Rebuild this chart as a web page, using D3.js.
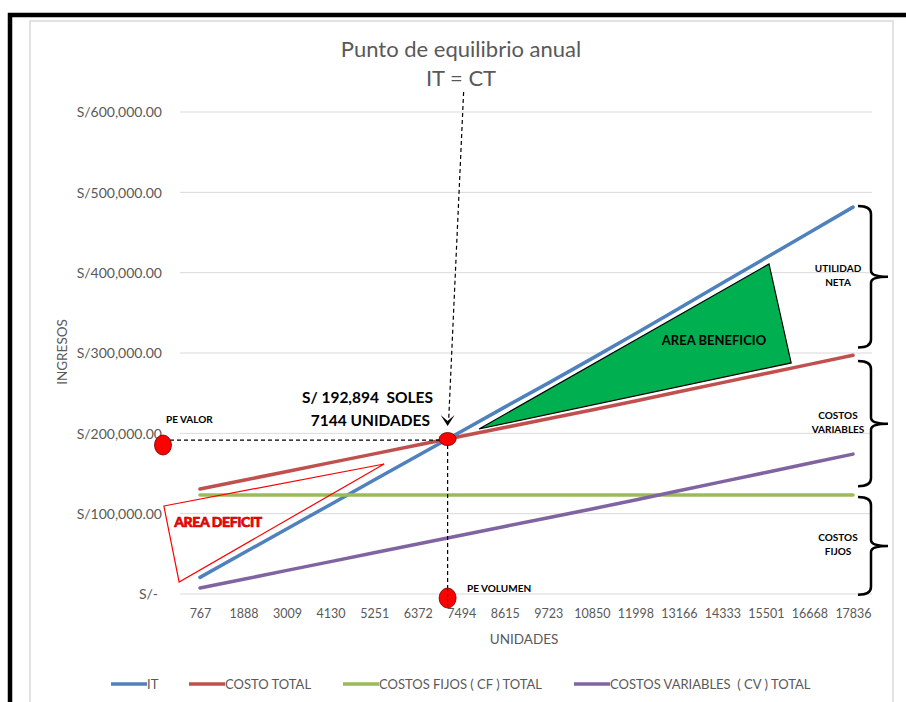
<!DOCTYPE html>
<html>
<head>
<meta charset="utf-8">
<script src="https://cdnjs.cloudflare.com/ajax/libs/d3/7.8.5/d3.min.js"></script>
<style>
  body { margin: 0; background: #fff; }
  svg text { font-family: Lato, "Open Sans", sans-serif; }
</style>
</head>
<body>
<svg id="chart"></svg>
<script>
// chart data
var unidades = ["767", "1888", "3009", "4130", "5251", "6372", "7494", "8615", "9723",
  "10850", "11998", "13166", "14333", "15501", "16668", "17836"];
var ingresoTotal = [20700, 51000, 81200, 111500, 141800, 172000, 202300, 232600, 262500,
  293000, 324000, 355500, 387000, 418500, 450000, 481600];
var costoTotal = [130600, 141600, 152500, 163500, 174400, 185400, 196300, 207200, 218100,
  229100, 240300, 251700, 263100, 274500, 285800, 297200];
var costosFijos = [123160, 123160, 123160, 123160, 123160, 123160, 123160, 123160, 123160,
  123160, 123160, 123160, 123160, 123160, 123160, 123160];
var costosVariables = [7500, 18400, 29400, 40300, 51300, 62200, 73100, 84100, 94900,
  105900, 117100, 128500, 139900, 151300, 162700, 174100];
var yTicks = [0, 100000, 200000, 300000, 400000, 500000, 600000];
var peUnidades = 7144, peSoles = 192894;

// annotation shapes in data space: [category index, soles]
var areaDeficit = [[-0.83, 109500], [4.23, 161800], [-0.48, 15000]];
var areaBeneficio = [[6.41, 205400], [13.07, 410800], [13.58, 287600]];
var llaves = [
  { lbl: ["UTILIDAD", "NETA"], top: 483000, bot: 307000 },
  { lbl: ["COSTOS", "VARIABLES"], top: 290000, bot: 134000 },
  { lbl: ["COSTOS", "FIJOS"], top: 120700, bot: -1000 }
];

var series = [
  { name: "IT", vals: ingresoTotal, color: "#4f81bd" },
  { name: "COSTO TOTAL", vals: costoTotal, color: "#c0504d" },
  { name: "COSTOS FIJOS ( CF ) TOTAL", vals: costosFijos, color: "#9bbb59" },
  { name: "COSTOS VARIABLES  ( CV ) TOTAL", vals: costosVariables, color: "#8064a2" }
];

var width = 906, height = 702;
var svg = d3.select("#chart").attr("width", width).attr("height", height);

// frame
svg.append("rect").attr("x", 30).attr("y", 21).attr("width", 863).attr("height", 700)
  .attr("fill", "#fff").attr("stroke", "#d9d9d9").attr("stroke-width", 1.5);
svg.append("path").attr("d", "M10,710 L10,15 L906,15")
  .attr("fill", "none").attr("stroke", "#000").attr("stroke-width", 4.5);

var x = d3.scaleLinear().domain([0, unidades.length - 1]).range([200, 853]);
var y = d3.scaleLinear().domain([0, 600000]).range([594, 112]);

// units -> fractional category position
function unitIdx(u) {
  var n = unidades.map(Number);
  for (var i = 0; i < n.length - 1; i++) {
    if (u <= n[i + 1]) return i + (u - n[i]) / (n[i + 1] - n[i]);
  }
  return n.length - 1;
}

// gridlines
svg.append("g").selectAll("line").data(yTicks).enter().append("line")
  .attr("x1", 180).attr("x2", 872)
  .attr("y1", function(d) { return y(d); }).attr("y2", function(d) { return y(d); })
  .attr("stroke", "#d9d9d9").attr("stroke-width", 1);

// y axis
var yAxis = d3.axisLeft(y).tickValues(yTicks).tickSize(0).tickPadding(0)
  .tickFormat(function(d) { return d === 0 ? "S/-" : "S/" + d3.format(",.2f")(d); });
var gy = svg.append("g").attr("transform", "translate(162,0)").call(yAxis);
gy.select(".domain").remove();
gy.selectAll("text").attr("fill", "#595959").style("font-size", "14px")
  .attr("dy", "0.35em");
gy.selectAll(".tick").filter(function(d) { return d === 0; }).select("text")
  .attr("x", -4);

// x axis
var xAxis = d3.axisBottom(x).tickValues(d3.range(unidades.length)).tickSize(0)
  .tickFormat(function(i) { return unidades[i]; });
var gx = svg.append("g").attr("transform", "translate(0,606)").call(xAxis);
gx.select(".domain").remove();
gx.selectAll("text").attr("fill", "#595959").style("font-size", "12.5px");

svg.append("text").attr("x", 524).attr("y", 644).attr("text-anchor", "middle")
  .attr("fill", "#595959").style("font-size", "13.5px").text("UNIDADES");
svg.append("text").attr("transform", "translate(67,352) rotate(-90)")
  .attr("text-anchor", "middle").attr("fill", "#595959").style("font-size", "13.5px")
  .text("INGRESOS");

// title
svg.append("text").attr("x", 461).attr("y", 57).attr("text-anchor", "middle")
  .attr("fill", "#595959").style("font-size", "22px").text("Punto de equilibrio anual");
svg.append("text").attr("x", 461).attr("y", 86).attr("text-anchor", "middle")
  .attr("fill", "#595959").style("font-size", "22px").text("IT = CT");

// lines
var line = d3.line()
  .x(function(d, i) { return x(i); })
  .y(function(d) { return y(d); });

svg.append("g").selectAll("path").data(series).enter().append("path")
  .attr("d", function(d) { return line(d.vals); })
  .attr("fill", "none")
  .attr("stroke", function(d) { return d.color; })
  .attr("stroke-width", 3.5)
  .attr("stroke-linecap", "round");

// area polygons
function polyPts(arr) {
  return arr.map(function(p) { return x(p[0]) + "," + y(p[1]); }).join(" ");
}
svg.append("polygon").attr("points", polyPts(areaBeneficio))
  .attr("fill", "#00b050").attr("stroke", "#000").attr("stroke-width", 1.2);
svg.append("polygon").attr("points", polyPts(areaDeficit))
  .attr("fill", "none").attr("stroke", "#ff0000").attr("stroke-width", 1.2);

svg.append("text").attr("x", 714).attr("y", 345).attr("text-anchor", "middle")
  .attr("fill", "#000").style("font-size", "13px").style("font-weight", "bold")
  .text("AREA BENEFICIO");
svg.append("text").attr("x", 218).attr("y", 527).attr("text-anchor", "middle")
  .attr("fill", "#ff0000").attr("stroke", "#c00000").attr("stroke-width", 0.6)
  .style("font-size", "14px").style("font-weight", "900").style("letter-spacing", "-0.4px")
  .text("AREA DEFICIT");

// break-even guides
var bx = x(unitIdx(peUnidades)), by = y(peSoles);
svg.append("line").attr("x1", bx + 16).attr("y1", 92).attr("x2", bx + 1).attr("y2", by - 18)
  .attr("stroke", "#000").attr("stroke-width", 1.2).attr("stroke-dasharray", "4,3");
svg.append("path")
  .attr("d", "M" + (bx - 7) + "," + (by - 24) + " L" + bx + "," + (by - 13) +
    " L" + (bx + 7) + "," + (by - 24) + " L" + bx + "," + (by - 18) + " Z")
  .attr("fill", "#000");
svg.append("line").attr("x1", 170).attr("y1", by + 1).attr("x2", bx - 8).attr("y2", by + 1)
  .attr("stroke", "#000").attr("stroke-width", 1.2).attr("stroke-dasharray", "4,3");
svg.append("line").attr("x1", bx).attr("y1", by + 6).attr("x2", bx).attr("y2", y(0) + 10)
  .attr("stroke", "#000").attr("stroke-width", 1.2).attr("stroke-dasharray", "4,3");

// markers
var marcas = [[bx, by, 8.5, 6.5], [163, by + 6, 8.5, 10], [bx, y(0) + 4, 8.5, 10]];
svg.append("g").selectAll("ellipse").data(marcas).enter().append("ellipse")
  .attr("cx", function(d) { return d[0]; }).attr("cy", function(d) { return d[1]; })
  .attr("rx", function(d) { return d[2]; }).attr("ry", function(d) { return d[3]; })
  .attr("fill", "#ff0000").attr("stroke", "#600").attr("stroke-width", 0.8);
svg.append("line").attr("x1", bx).attr("y1", y(0) - 5).attr("x2", bx).attr("y2", y(0) + 13)
  .attr("stroke", "#000").attr("stroke-width", 1).attr("stroke-dasharray", "3,2");

svg.append("text").attr("x", 166).attr("y", 423).attr("fill", "#000")
  .style("font-size", "10px").style("font-weight", "bold").text("PE VALOR");
svg.append("text").attr("x", 467).attr("y", 592).attr("fill", "#000")
  .style("font-size", "10px").style("font-weight", "bold").text("PE VOLUMEN");

svg.append("text").attr("x", 433).attr("y", 403).attr("text-anchor", "end")
  .attr("fill", "#000").style("font-size", "15.5px").style("font-weight", "bold")
  .attr("xml:space", "preserve")
  .text("S/ " + d3.format(",")(peSoles) + "  SOLES");
svg.append("text").attr("x", 430).attr("y", 426).attr("text-anchor", "end")
  .attr("fill", "#000").style("font-size", "15.5px").style("font-weight", "bold")
  .text(peUnidades + " UNIDADES");

// braces on the right
function llave(t, b) {
  var x0 = 858, xv = 871, m = (t + b) / 2;
  return "M" + x0 + "," + t + " Q" + xv + "," + t + " " + xv + "," + (t + 8) +
    " L" + xv + "," + (m - 6) + " Q" + xv + "," + m + " " + (xv + 17) + "," + m +
    " Q" + xv + "," + m + " " + xv + "," + (m + 6) +
    " L" + xv + "," + (b - 8) + " Q" + xv + "," + b + " " + x0 + "," + b;
}
var gl = svg.append("g").selectAll("g").data(llaves).enter().append("g");
gl.append("path").attr("d", function(d) { return llave(y(d.top), y(d.bot)); })
  .attr("fill", "none").attr("stroke", "#000").attr("stroke-width", 2.5);
gl.append("text").attr("x", 838).attr("text-anchor", "middle")
  .attr("y", function(d) { return (y(d.top) + y(d.bot)) / 2 - 5; })
  .attr("fill", "#000").style("font-size", "10px").style("font-weight", "bold")
  .selectAll("tspan").data(function(d) { return d.lbl; }).enter().append("tspan")
  .attr("x", 838).attr("dy", function(d, i) { return i === 0 ? 0 : 14; })
  .text(function(d) { return d; });

// legend
var legX = [111, 189, 343, 574];
var gLeg = svg.append("g").selectAll("g").data(series).enter().append("g")
  .attr("transform", function(d, i) { return "translate(" + legX[i] + ",684)"; });
gLeg.append("line").attr("x1", 0).attr("x2", 36).attr("y1", 0).attr("y2", 0)
  .attr("stroke", function(d) { return d.color; }).attr("stroke-width", 3.5);
gLeg.append("text").attr("x", 36).attr("y", 0).attr("dy", "0.35em")
  .attr("fill", "#595959").style("font-size", "13px").attr("xml:space", "preserve")
  .text(function(d) { return d.name; });
</script>
</body>
</html>
